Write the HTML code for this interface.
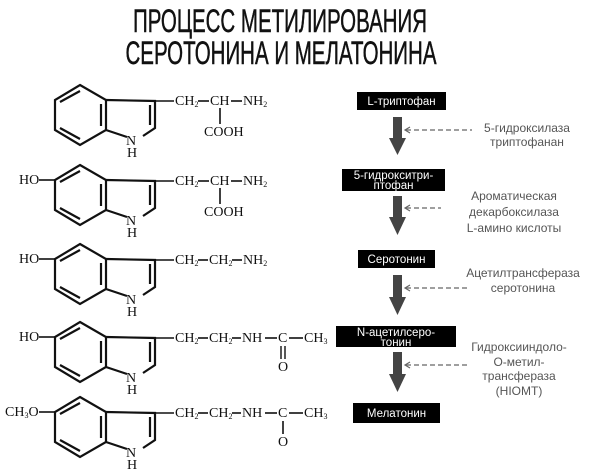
<!DOCTYPE html>
<html><head><meta charset="utf-8"><style>
html,body{margin:0;padding:0;background:#fff;width:600px;height:475px;overflow:hidden}
svg{display:block}
.t{font-family:"Liberation Sans Narrow","Liberation Sans",sans-serif;font-size:32px;fill:#111;stroke:#111;stroke-width:0.5}
.c{font-family:"Liberation Serif",serif;font-size:14px;fill:#111}
.s{font-size:8px}
.b{font-family:"Liberation Sans",sans-serif;font-size:11.5px;fill:#fff}
.g{font-family:"Liberation Sans",sans-serif;font-size:12px;fill:#555}
</style></head><body>
<svg width="600" height="475" viewBox="0 0 600 475" xmlns="http://www.w3.org/2000/svg">
<defs>
<g id="ind" fill="none" stroke="#111" stroke-width="2.2">
<polygon points="80,85 106,100 106,130 80,145 55,130 55,100"/>
<line x1="60" y1="102" x2="80" y2="91"/>
<line x1="60" y1="128" x2="80" y2="139"/>
<line x1="101" y1="104" x2="101" y2="126"/>
<polyline points="106,100 155,101 155,128 143,136"/>
<line x1="150" y1="105" x2="150" y2="125"/>
<line x1="106" y1="130" x2="127" y2="137"/>
</g>
</defs>
<text class="t" x="280" y="32" text-anchor="middle" textLength="294" lengthAdjust="spacingAndGlyphs">ПРОЦЕСС МЕТИЛИРОВАНИЯ</text>
<text class="t" x="281" y="64" text-anchor="middle" textLength="311" lengthAdjust="spacingAndGlyphs">СЕРОТОНИНА И МЕЛАТОНИНА</text>

<!-- row 1 -->
<g>
<use href="#ind"/>
<text class="c" x="126" y="145">N</text><text class="c" x="127" y="157">H</text>
<line x1="155" y1="101" x2="174" y2="101" stroke="#111" stroke-width="1.6"/>
<text class="c" x="175" y="105">CH<tspan class="s" dy="2">2</tspan></text>
<line x1="198" y1="101" x2="209" y2="101" stroke="#111" stroke-width="1.6"/>
<text class="c" x="210" y="105">CH</text>
<line x1="231" y1="101" x2="242" y2="101" stroke="#111" stroke-width="1.6"/>
<text class="c" x="243" y="105">NH<tspan class="s" dy="2">2</tspan></text>
<line x1="220" y1="108" x2="220" y2="124" stroke="#111" stroke-width="1.6"/>
<text class="c" x="204" y="136">COOH</text>
</g>
<!-- row 2 -->
<g transform="translate(0,80)">
<use href="#ind"/>
<text class="c" x="19" y="104">HO</text>
<line x1="39" y1="100" x2="55" y2="100" stroke="#111" stroke-width="1.6"/>
<text class="c" x="126" y="145">N</text><text class="c" x="127" y="157">H</text>
<line x1="155" y1="101" x2="174" y2="101" stroke="#111" stroke-width="1.6"/>
<text class="c" x="175" y="105">CH<tspan class="s" dy="2">2</tspan></text>
<line x1="198" y1="101" x2="209" y2="101" stroke="#111" stroke-width="1.6"/>
<text class="c" x="210" y="105">CH</text>
<line x1="231" y1="101" x2="242" y2="101" stroke="#111" stroke-width="1.6"/>
<text class="c" x="243" y="105">NH<tspan class="s" dy="2">2</tspan></text>
<line x1="220" y1="108" x2="220" y2="124" stroke="#111" stroke-width="1.6"/>
<text class="c" x="204" y="136">COOH</text>
</g>
<!-- row 3 -->
<g transform="translate(0,159)">
<use href="#ind"/>
<text class="c" x="19" y="104">HO</text>
<line x1="39" y1="100" x2="55" y2="100" stroke="#111" stroke-width="1.6"/>
<text class="c" x="126" y="145">N</text><text class="c" x="127" y="157">H</text>
<line x1="155" y1="101" x2="174" y2="101" stroke="#111" stroke-width="1.6"/>
<text class="c" x="175" y="105">CH<tspan class="s" dy="2">2</tspan></text>
<line x1="198" y1="101" x2="208" y2="101" stroke="#111" stroke-width="1.6"/>
<text class="c" x="209" y="105">CH<tspan class="s" dy="2">2</tspan></text>
<line x1="232" y1="101" x2="242" y2="101" stroke="#111" stroke-width="1.6"/>
<text class="c" x="243" y="105">NH<tspan class="s" dy="2">2</tspan></text>
</g>
<!-- row 4 -->
<g transform="translate(0,237)">
<use href="#ind"/>
<text class="c" x="19" y="104">HO</text>
<line x1="39" y1="100" x2="55" y2="100" stroke="#111" stroke-width="1.6"/>
<text class="c" x="126" y="145">N</text><text class="c" x="127" y="157">H</text>
<line x1="155" y1="101" x2="174" y2="101" stroke="#111" stroke-width="1.6"/>
<text class="c" x="175" y="105">CH<tspan class="s" dy="2">2</tspan></text>
<line x1="198" y1="101" x2="208" y2="101" stroke="#111" stroke-width="1.6"/>
<text class="c" x="209" y="105">CH<tspan class="s" dy="2">2</tspan></text>
<line x1="232" y1="101" x2="241" y2="101" stroke="#111" stroke-width="1.6"/>
<text class="c" x="242" y="105">NH</text>
<line x1="265" y1="101" x2="277" y2="101" stroke="#111" stroke-width="1.6"/>
<text class="c" x="278" y="105">C</text>
<line x1="289" y1="101" x2="303" y2="101" stroke="#111" stroke-width="1.6"/>
<text class="c" x="304" y="105">CH<tspan class="s" dy="2">3</tspan></text>
<line x1="281" y1="109" x2="281" y2="122" stroke="#111" stroke-width="1.4"/>
<line x1="285" y1="109" x2="285" y2="122" stroke="#111" stroke-width="1.4"/>
<text class="c" x="278" y="134">O</text>
</g>
<!-- row 5 -->
<g transform="translate(0,312)">
<use href="#ind"/>
<text class="c" x="5" y="104">CH<tspan class="s" dy="2">3</tspan><tspan dy="-2">O</tspan></text>
<line x1="39" y1="100" x2="55" y2="100" stroke="#111" stroke-width="1.6"/>
<text class="c" x="126" y="145">N</text><text class="c" x="127" y="157">H</text>
<line x1="155" y1="101" x2="174" y2="101" stroke="#111" stroke-width="1.6"/>
<text class="c" x="175" y="105">CH<tspan class="s" dy="2">2</tspan></text>
<line x1="198" y1="101" x2="208" y2="101" stroke="#111" stroke-width="1.6"/>
<text class="c" x="209" y="105">CH<tspan class="s" dy="2">2</tspan></text>
<line x1="232" y1="101" x2="241" y2="101" stroke="#111" stroke-width="1.6"/>
<text class="c" x="242" y="105">NH</text>
<line x1="265" y1="101" x2="277" y2="101" stroke="#111" stroke-width="1.6"/>
<text class="c" x="278" y="105">C</text>
<line x1="289" y1="101" x2="303" y2="101" stroke="#111" stroke-width="1.6"/>
<text class="c" x="304" y="105">CH<tspan class="s" dy="2">3</tspan></text>
<line x1="283" y1="109" x2="283" y2="122" stroke="#111" stroke-width="1.6"/>
<text class="c" x="278" y="134">O</text>
</g>

<!-- flowchart boxes -->
<rect x="357" y="92" width="89" height="18" fill="#000"/>
<text class="b" x="401.5" y="105" text-anchor="middle">L-триптофан</text>
<rect x="342" y="169" width="103" height="22" fill="#000"/>
<text class="b" x="393.5" y="179" text-anchor="middle">5-гидрокситри-</text>
<text class="b" x="393.5" y="189" text-anchor="middle">птофан</text>
<rect x="358" y="250" width="77" height="18" fill="#000"/>
<text class="b" x="396.5" y="263" text-anchor="middle">Серотонин</text>
<rect x="336" y="326" width="120" height="21" fill="#000"/>
<text class="b" x="396" y="336" text-anchor="middle">N-ацетилсеро-</text>
<text class="b" x="396" y="346" text-anchor="middle">тонин</text>
<rect x="353" y="403" width="87" height="20" fill="#000"/>
<text class="b" x="396.5" y="417" text-anchor="middle">Мелатонин</text>

<!-- arrows -->
<g fill="#444">
<rect x="393" y="117" width="9" height="23"/><polygon points="389,138 406,138 397.5,155"/>
<rect x="393" y="196" width="9" height="23"/><polygon points="389,217 406,217 397.5,235"/>
<rect x="393" y="275" width="9" height="23"/><polygon points="389,297 406,297 397.5,315"/>
<rect x="393" y="352" width="9" height="23"/><polygon points="389,374 406,374 397.5,392"/>
</g>
<g stroke="#666" stroke-width="1.2" fill="none">
<line x1="406" y1="130" x2="472" y2="130" stroke-dasharray="5,3"/><polyline points="410,127 405,130 410,133"/>
<line x1="406" y1="208" x2="441" y2="208" stroke-dasharray="5,3"/><polyline points="410,205 405,208 410,211"/>
<line x1="406" y1="288" x2="470" y2="288" stroke-dasharray="5,3"/><polyline points="410,285 405,288 410,291"/>
<line x1="406" y1="365" x2="470" y2="365" stroke-dasharray="5,3"/><polyline points="410,362 405,365 410,368"/>
</g>
<g class="g" text-anchor="middle">
<text x="527" y="132">5-гидроксилаза</text>
<text x="527" y="146">триптофанан</text>
<text x="514" y="200">Ароматическая</text>
<text x="514" y="216">декарбоксилаза</text>
<text x="514" y="232">L-амино кислоты</text>
<text x="523" y="277">Ацетилтрансфераза</text>
<text x="523" y="292">серотонина</text>
<text x="519" y="351">Гидроксииндоло-</text>
<text x="519" y="366">O-метил-</text>
<text x="519" y="380">трансфераза</text>
<text x="519" y="395">(HIOMT)</text>
</g>
</svg>
</body></html>
